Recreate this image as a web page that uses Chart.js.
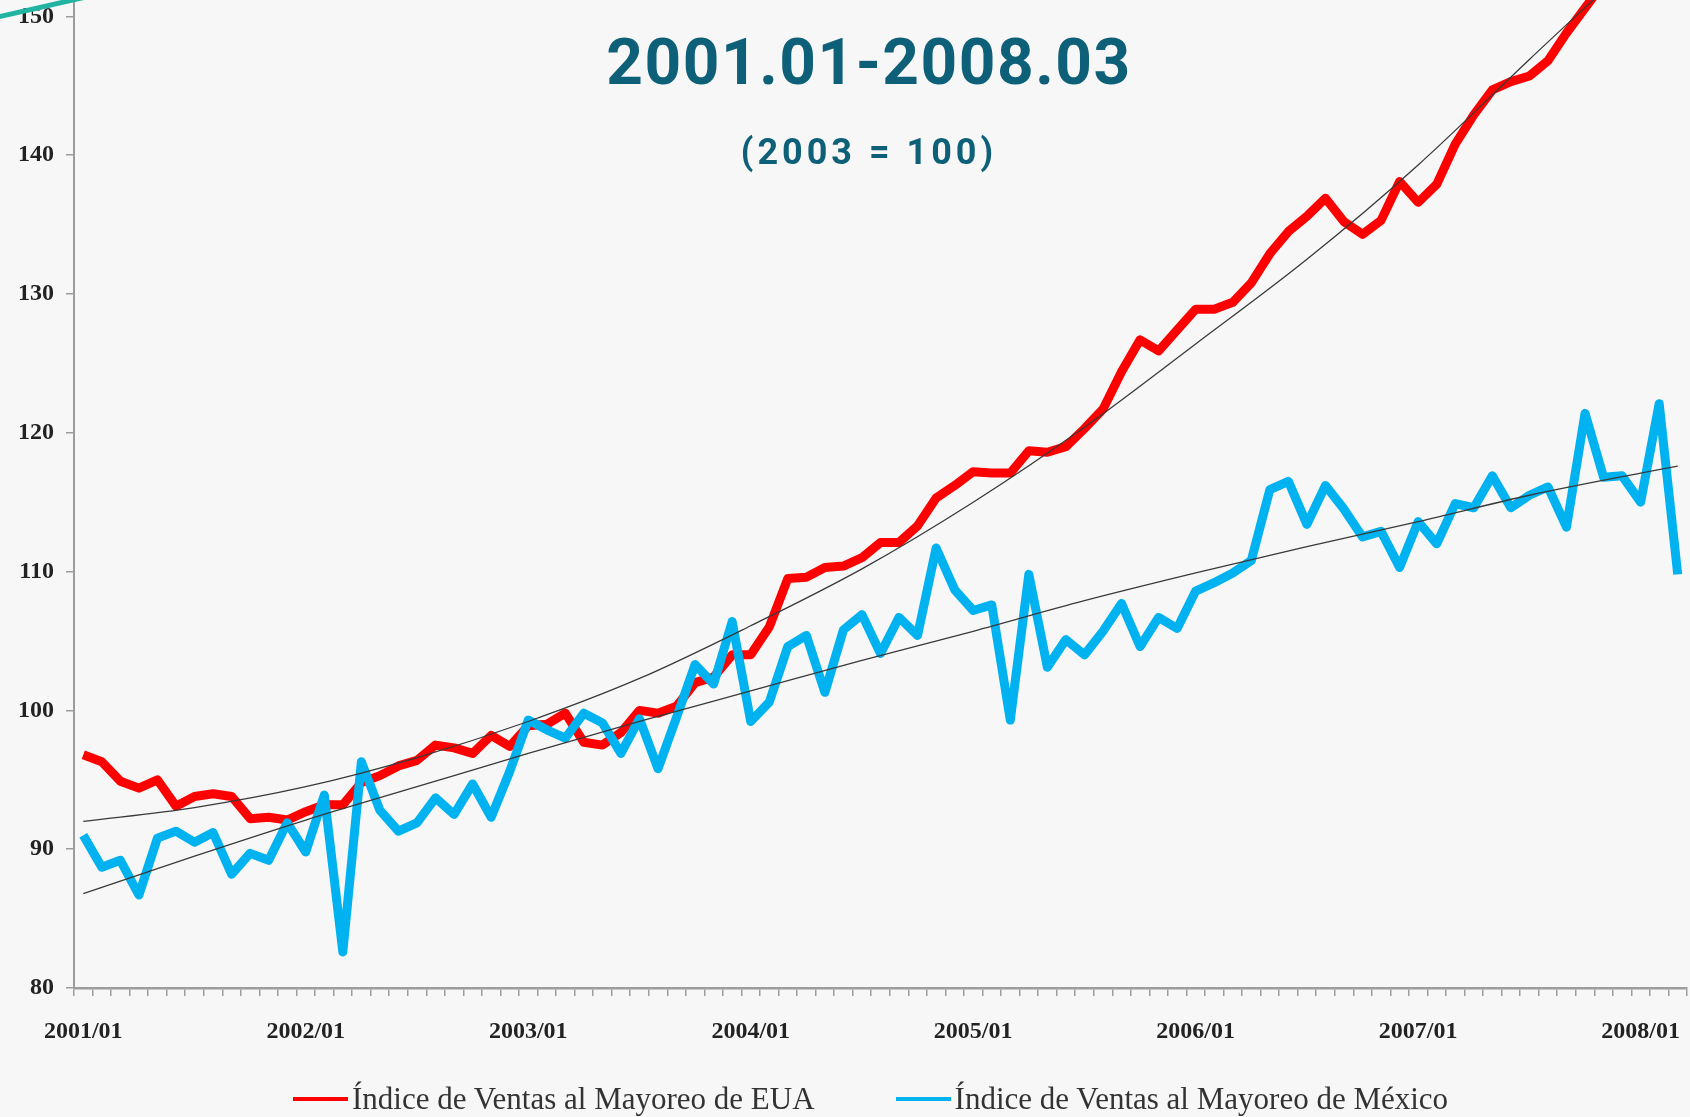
<!DOCTYPE html>
<html>
<head>
<meta charset="utf-8">
<script src="https://cdn.jsdelivr.net/npm/chart.js@4.4.1/dist/chart.umd.min.js"></script>
<style>
  html, body { margin: 0; padding: 0; background: #f7f7f7; }
  #marco { position: relative; width: 1690px; height: 1117px; overflow: hidden; }
  #grafica { position: absolute; left: 0; top: 0; }
  .titulo { position: absolute; left: 0; width: 1738px; text-align: center;
            font-family: Roboto, "Open Sans", sans-serif; font-weight: bold; color: #0e6078; }
  #t1 { top: 31px; font-size: 64px; line-height: 64px; letter-spacing: 1.5px; }
  #t2 { top: 133px; font-size: 36px; line-height: 38px; letter-spacing: 4px; }
  #leyenda { position: absolute; left: 293px; top: 1081px; display: flex; align-items: center; gap: 81px;
             font-family: "Liberation Serif", serif; font-size: 31px; color: #333; }
  #leyenda .item { display: flex; align-items: center; }
  #leyenda .linea { display: inline-block; width: 55px; height: 4px; margin-right: 4px; }
</style>
</head>
<body>
<div id="marco">
  <canvas id="grafica" width="1690" height="1117"></canvas>
  <div class="titulo" id="t1">2001.01-2008.03</div>
  <div class="titulo" id="t2">(2003 = 100)</div>
  <div id="leyenda"></div>
</div>
<script>
// meses 2001/01 .. 2008/03
const anios = ['2001', '2002', '2003', '2004', '2005', '2006', '2007', '2008'];
const numMes = ['01', '02', '03', '04', '05', '06', '07', '08', '09', '10', '11', '12'];
const meses = [];
anios.forEach(a => numMes.forEach(m => meses.push(a + '/' + m)));
meses.length = 87;

// marcas del eje vertical
const marcasY = [80, 90, 100, 110, 120, 130, 140, 150];

// Índice de Ventas al Mayoreo de EUA (2003 = 100)
const ventasEUA = [
  96.8, 96.3, 94.9, 94.4, 95.0, 93.1, 93.8, 94.0, 93.8, 92.2, 92.3, 92.1,
  92.7, 93.2, 93.2, 94.8, 95.3, 96.0, 96.4, 97.5, 97.3, 96.9, 98.2, 97.4,
  98.9, 99.0, 99.8, 97.7, 97.5, 98.4, 100.0, 99.8, 100.3, 102.0, 102.4, 104.0,
  104.0, 106.0, 109.5, 109.6, 110.3, 110.4, 111.0, 112.1, 112.1, 113.3, 115.3, 116.2,
  117.2, 117.1, 117.1, 118.7, 118.6, 119.0, 120.3, 121.7, 124.4, 126.7, 125.9, 127.4,
  128.9, 128.9, 129.4, 130.8, 132.9, 134.5, 135.6, 136.9, 135.2, 134.3, 135.3, 138.1,
  136.6, 137.9, 140.8, 142.9, 144.7, 145.3, 145.7, 146.8, 148.8, 150.6, 152.4, 154.5,
  156.4, 158.5, 160.7
];

// Índice de Ventas al Mayoreo de México (2003 = 100)
const ventasMexico = [
  91.0, 88.7, 89.2, 86.7, 90.8, 91.3, 90.5, 91.2, 88.2, 89.7, 89.2, 91.9,
  89.8, 93.9, 82.6, 96.3, 92.8, 91.3, 91.9, 93.7, 92.5, 94.7, 92.3, 95.6,
  99.3, 98.6, 98.0, 99.8, 99.1, 96.9, 99.4, 95.8, 99.5, 103.3, 101.9, 106.4,
  99.2, 100.6, 104.6, 105.4, 101.3, 105.8, 106.9, 104.1, 106.7, 105.4, 111.7, 108.7,
  107.2, 107.6, 99.3, 109.8, 103.1, 105.1, 104.0, 105.7, 107.7, 104.6, 106.7, 105.9,
  108.6, 109.2, 109.9, 110.8, 115.9, 116.5, 113.4, 116.2, 114.5, 112.5, 112.9, 110.3,
  113.6, 112.0, 114.9, 114.6, 116.9, 114.6, 115.5, 116.1, 113.2, 121.4, 116.8, 116.9,
  115.0, 122.1, 109.8
];

// líneas de tendencia leídas cada seis meses
const mesesTendencia = ['2001/01', '2001/07', '2002/01', '2002/07', '2003/01', '2003/07', '2004/01', '2004/07',
  '2005/01', '2005/07', '2006/01', '2006/07', '2007/01', '2007/07', '2008/01', '2008/03'];
const tendenciaEUA = [92.0, 93.0, 94.5, 96.6, 99.2, 102.3, 106.1, 110.2, 115.0, 120.4, 126.4, 132.5, 139.3, 146.9, 154.4, 157.0];
const tendenciaMexico = [86.8, 89.5, 92.1, 94.5, 96.9, 99.2, 101.4, 103.6, 105.7, 107.9, 109.9, 111.8, 113.6, 115.5, 117.1, 117.6];

const colorEje = '#9c9c9c';
const fuenteEje = { family: "'Liberation Serif', serif", size: 24, weight: 'bold' };

// la franja verde de la plantilla, arriba a la izquierda
const adorno = {
  id: 'adorno',
  afterDraw(chart) {
    const ctx = chart.ctx;
    ctx.save();
    ctx.strokeStyle = '#22b4a2';
    ctx.lineWidth = 5;
    ctx.beginPath();
    ctx.moveTo(-2, 17);
    ctx.lineTo(86, -3);
    ctx.stroke();
    ctx.restore();
  }
};

function tendencia(valores) {
  return mesesTendencia.map((m, k) => ({ x: m, y: valores[k] }));
}

const grafica = new Chart(document.getElementById('grafica'), {
  type: 'line',
  data: {
    labels: meses,
    datasets: [
      {
        label: 'Índice de Ventas al Mayoreo de EUA',
        data: ventasEUA,
        borderColor: '#ff0000',
        borderWidth: 9,
        borderJoinStyle: 'round',
        pointRadius: 0,
        order: 2
      },
      {
        label: 'Índice de Ventas al Mayoreo de México',
        data: ventasMexico,
        borderColor: '#00b2ef',
        borderWidth: 9,
        borderJoinStyle: 'round',
        pointRadius: 0,
        order: 1
      },
      {
        label: 'Tendencia EUA',
        data: tendencia(tendenciaEUA),
        borderColor: '#3a3a3a',
        borderWidth: 1.3,
        pointRadius: 0,
        cubicInterpolationMode: 'monotone',
        order: 0
      },
      {
        label: 'Tendencia México',
        data: tendencia(tendenciaMexico),
        borderColor: '#3a3a3a',
        borderWidth: 1.3,
        pointRadius: 0,
        cubicInterpolationMode: 'monotone',
        order: 0
      }
    ]
  },
  options: {
    responsive: false,
    animation: false,
    layout: { padding: { left: 0, top: 0, right: 3, bottom: 69 } },
    plugins: {
      legend: { display: false },
      title: { display: false },
      tooltip: { enabled: false }
    },
    scales: {
      x: {
        offset: true,
        border: { color: colorEje, width: 2.5 },
        grid: { drawOnChartArea: false, offset: true, tickLength: 8, color: colorEje, lineWidth: 1.5 },
        ticks: {
          autoSkip: false, maxRotation: 0, minRotation: 0, padding: 21,
          color: '#222', font: fuenteEje,
          callback: (v, i) => meses[i].endsWith('/01') ? meses[i] : ''
        },
        afterFit: s => { s.height = 60; s.paddingRight = 0; }
      },
      y: {
        min: 80,
        max: 151.18,
        border: { color: colorEje, width: 2 },
        grid: { drawOnChartArea: false, tickLength: 8, color: colorEje, lineWidth: 1.5 },
        ticks: { padding: 12, color: '#222', font: fuenteEje },
        afterBuildTicks: s => { s.ticks = marcasY.map(v => ({ value: v })); },
        afterFit: s => { s.width = 74; s.paddingTop = 0; s.paddingBottom = 0; }
      }
    }
  },
  plugins: [adorno]
});

// leyenda en HTML con las dos series principales
const leyenda = document.getElementById('leyenda');
grafica.data.datasets.slice(0, 2).forEach(ds => {
  const item = document.createElement('div');
  item.className = 'item';
  const linea = document.createElement('span');
  linea.className = 'linea';
  linea.style.background = ds.borderColor;
  const texto = document.createElement('span');
  texto.textContent = ds.label;
  item.append(linea, texto);
  leyenda.append(item);
});
</script>
</body>
</html>
